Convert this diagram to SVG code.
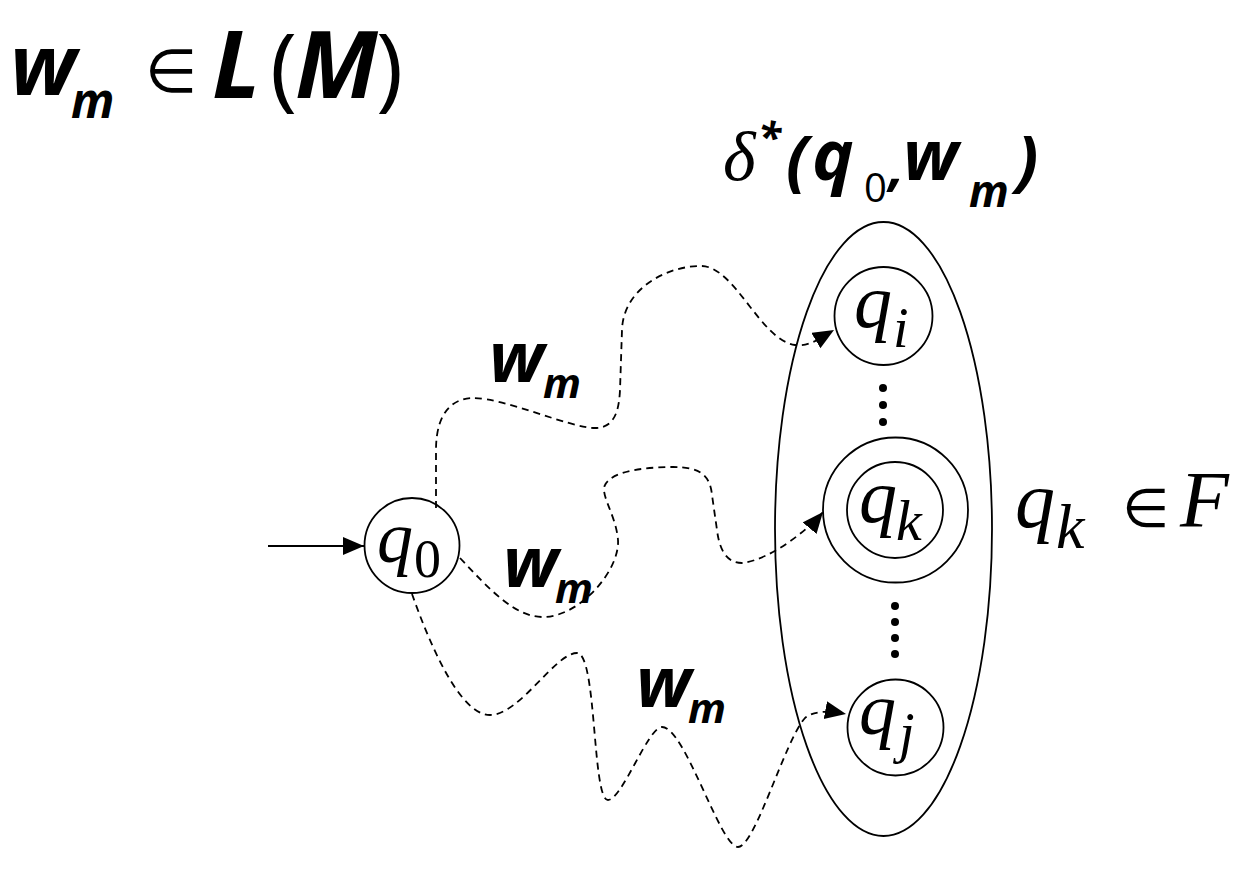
<svg xmlns="http://www.w3.org/2000/svg" width="1245" height="877" viewBox="0 0 1245 877">
<style>
.st{fill:none;stroke:#000;stroke-width:1.8}
.dash{fill:none;stroke:#000;stroke-width:1.8;stroke-dasharray:7 5}
.tm{font-family:"Liberation Serif","Times New Roman",serif;font-style:italic;font-weight:400;fill:#000}
.cb{font-family:"Open Sans","Liberation Sans","DejaVu Sans",sans-serif;font-weight:700;font-style:italic;fill:#000}
.up{font-style:normal;font-weight:400}
.sym{font-family:"DejaVu Sans",sans-serif;font-style:normal;font-weight:400}
.rm{font-style:normal}
</style>
<defs>
<marker id="ah" markerUnits="userSpaceOnUse" markerWidth="24" markerHeight="20" refX="21" refY="9" orient="auto">
<path d="M0,0 L21,9 L0,18 z" fill="#000"/>
</marker>
</defs>
<rect width="1245" height="877" fill="#fff"/>

<g id="title">
<text class="cb"><tspan x="10" y="95" font-size="84">w</tspan><tspan x="71" y="118" font-size="48">m</tspan><tspan class="sym" x="145" y="92" font-size="60">∈</tspan><tspan x="212" y="98" font-size="94">L</tspan><tspan class="up" x="270" y="99" font-size="92">(</tspan><tspan x="295" y="98" font-size="94">M</tspan><tspan class="up" x="376" y="99" font-size="92">)</tspan></text>
</g>

<g id="delta-label">
<text class="cb"><tspan class="tm" x="723" y="180" font-size="70">δ</tspan><tspan x="758" y="152" font-size="42">*</tspan><tspan x="786" y="184" font-size="66">(</tspan><tspan x="812" y="180" font-size="70">q</tspan><tspan class="up" x="864" y="202" font-size="40">0</tspan><tspan x="889" y="185" font-size="54">,</tspan><tspan x="903" y="180" font-size="70">w</tspan><tspan x="969" y="207" font-size="44">m</tspan><tspan x="1016" y="184" font-size="66">)</tspan></text>
</g>

<g id="set">
<ellipse class="st" cx="883.5" cy="529" rx="108.5" ry="307"/>
</g>

<g id="node-q0">
<circle class="st" cx="412" cy="545.5" r="47.5"/>
<text class="tm"><tspan x="377" y="562" font-size="72">q</tspan><tspan class="rm" x="414" y="577" font-size="54">0</tspan></text>
</g>

<g id="node-qi">
<circle class="st" cx="883.5" cy="316" r="49"/>
<text class="tm"><tspan x="854" y="327" font-size="76">q</tspan><tspan x="893" y="347" font-size="56">i</tspan></text>
</g>

<g id="node-qk">
<circle class="st" cx="895.5" cy="510" r="72.5"/>
<circle class="st" cx="895" cy="510" r="48"/>
<text class="tm"><tspan x="859" y="522" font-size="76">q</tspan><tspan x="896" y="540" font-size="58">k</tspan></text>
</g>

<g id="node-qj">
<circle class="st" cx="895.5" cy="727.5" r="48"/>
<text class="tm"><tspan x="859" y="734" font-size="74">q</tspan><tspan x="899" y="752" font-size="56">j</tspan></text>
</g>

<g id="dots" fill="#000">
<circle cx="883" cy="388" r="4"/>
<circle cx="883" cy="405" r="4"/>
<circle cx="883" cy="422" r="4"/>
<circle cx="895" cy="606" r="4"/>
<circle cx="895" cy="622" r="4"/>
<circle cx="895" cy="638" r="4"/>
<circle cx="895" cy="654" r="4"/>
</g>

<g id="qk-in-F">
<text class="tm"><tspan x="1015" y="527" font-size="80">q</tspan><tspan x="1056" y="548" font-size="64">k</tspan><tspan class="sym" x="1122" y="527" font-size="54">∈</tspan><tspan x="1180" y="527" font-size="80">F</tspan></text>
</g>

<g id="connectors">
<line class="st" x1="268" y1="546" x2="364" y2="546" marker-end="url(#ah)"/>
<path class="dash" d="M436 508 L436 450 C436 410 455 398 473 398 C505 398 570 428 595 428 C615 428 619 410 620 390 L622 330 C623 290 665 266 701 266 C735 266 760 340 795 345 C810 347 822 337 834 330" marker-end="url(#ah)"/>
<path class="dash" d="M460 558 C490 590 515 617 543 617 C580 617 620 570 618 540 C616 515 600 495 605 485 C612 470 650 467 673 467 C700 467 710 475 712 495 L717 530 C720 555 730 563 742 563 C770 560 808 530 823 512" marker-end="url(#ah)"/>
<path class="dash" d="M412 594 C430 645 460 715 490 715 C520 715 555 653 577 653 C597 653 592 800 608 800 C622 800 648 727 662 727 C685 727 720 847 738 847 C755 847 785 740 805 718 C815 710 830 711 846 714" marker-end="url(#ah)"/>
</g>

<g id="edge-labels">
<text class="cb"><tspan x="489" y="382" font-size="70">w</tspan><tspan x="543" y="398" font-size="42">m</tspan></text>
<text class="cb"><tspan x="503" y="587" font-size="70">w</tspan><tspan x="555" y="603" font-size="42">m</tspan></text>
<text class="cb"><tspan x="636" y="707" font-size="70">w</tspan><tspan x="688" y="723" font-size="42">m</tspan></text>
</g>
</svg>
